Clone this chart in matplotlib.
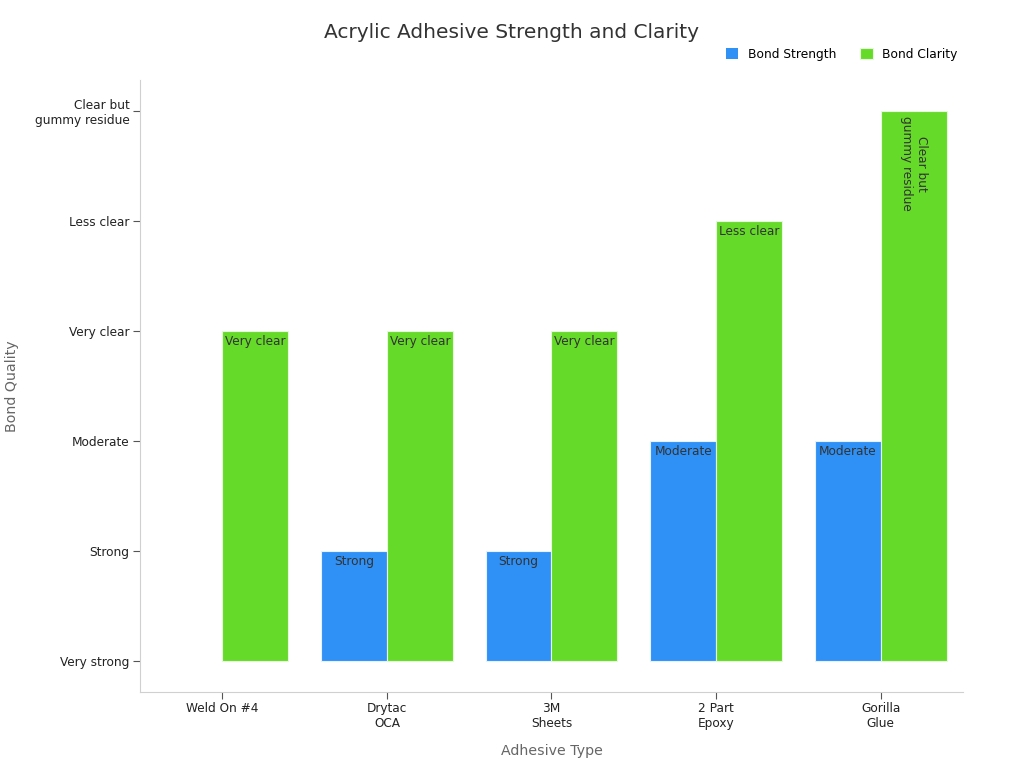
import matplotlib.pyplot as plt
import numpy as np

adhesives = ["Weld On #4", "Drytac\nOCA", "3M\nSheets", "2 Part\nEpoxy", "Gorilla\nGlue"]
levels = ["Very strong", "Strong", "Moderate", "Very clear", "Less clear", "Clear but\ngummy residue"]
strength = ["Very strong", "Strong", "Strong", "Moderate", "Moderate"]
clarity = ["Very clear", "Very clear", "Very clear", "Less clear", "Clear but\ngummy residue"]

strength_v = [levels.index(s) for s in strength]
clarity_v = [levels.index(c) for c in clarity]

blue = "#2F91F6"
green = "#66DA29"
txt = "#333333"

fig = plt.figure(figsize=(10.24, 7.68), dpi=100)
ax = fig.add_axes([0.1367, 0.099, 0.8037, 0.797])

x = np.arange(len(adhesives))
w = 0.4
b1 = ax.bar(x - w / 2, strength_v, width=w, color=blue, edgecolor="#E8F2FE", linewidth=0.8, label="Bond Strength")
b2 = ax.bar(x + w / 2, clarity_v, width=w, color=green, edgecolor="#E6F8DC", linewidth=0.8, label="Bond Clarity")

for bars, names in ((b1, strength), (b2, clarity)):
    for r, name in zip(bars, names):
        h = r.get_height()
        if h == 0:
            r.set_linewidth(0)
            continue
        cx = r.get_x() + r.get_width() / 2
        if "\n" in name:
            ax.annotate(name, (cx, h), xytext=(0, -4), textcoords="offset points",
                        ha="center", va="top", rotation=-90, fontsize=8.7, color=txt)
        else:
            ax.annotate(name, (cx, h), xytext=(0, -3), textcoords="offset points",
                        ha="center", va="top", fontsize=8.7, color=txt)

ax.set_xlim(-0.5, 4.5)
ax.set_ylim(-0.28, 5.28)
ax.set_xticks(x)
ax.set_xticklabels(adhesives, fontsize=8.7)
ax.set_yticks(range(len(levels)))
ax.set_yticklabels(levels, fontsize=8.7)
ax.tick_params(colors="#555555", length=5, width=0.8, labelcolor="#222222", pad=2.5)

for s in ("top", "right"):
    ax.spines[s].set_visible(False)
for s in ("left", "bottom"):
    ax.spines[s].set_color("#D0D0D0")

ax.set_xlabel("Adhesive Type", fontsize=10.2, color="#666666", labelpad=10)
ax.set_ylabel("Bond Quality", fontsize=10.2, color="#666666")
ax.yaxis.set_label_coords(-0.147, 0.5)

fig.suptitle("Acrylic Adhesive Strength and Clarity", fontsize=14.5, color="#333333", y=0.97)
fig.legend(loc="upper right", bbox_to_anchor=(0.946, 0.952), ncol=2, frameon=False,
           fontsize=8.8, handlelength=1, handleheight=1, columnspacing=2)

fig.savefig("out.png", dpi=100)
